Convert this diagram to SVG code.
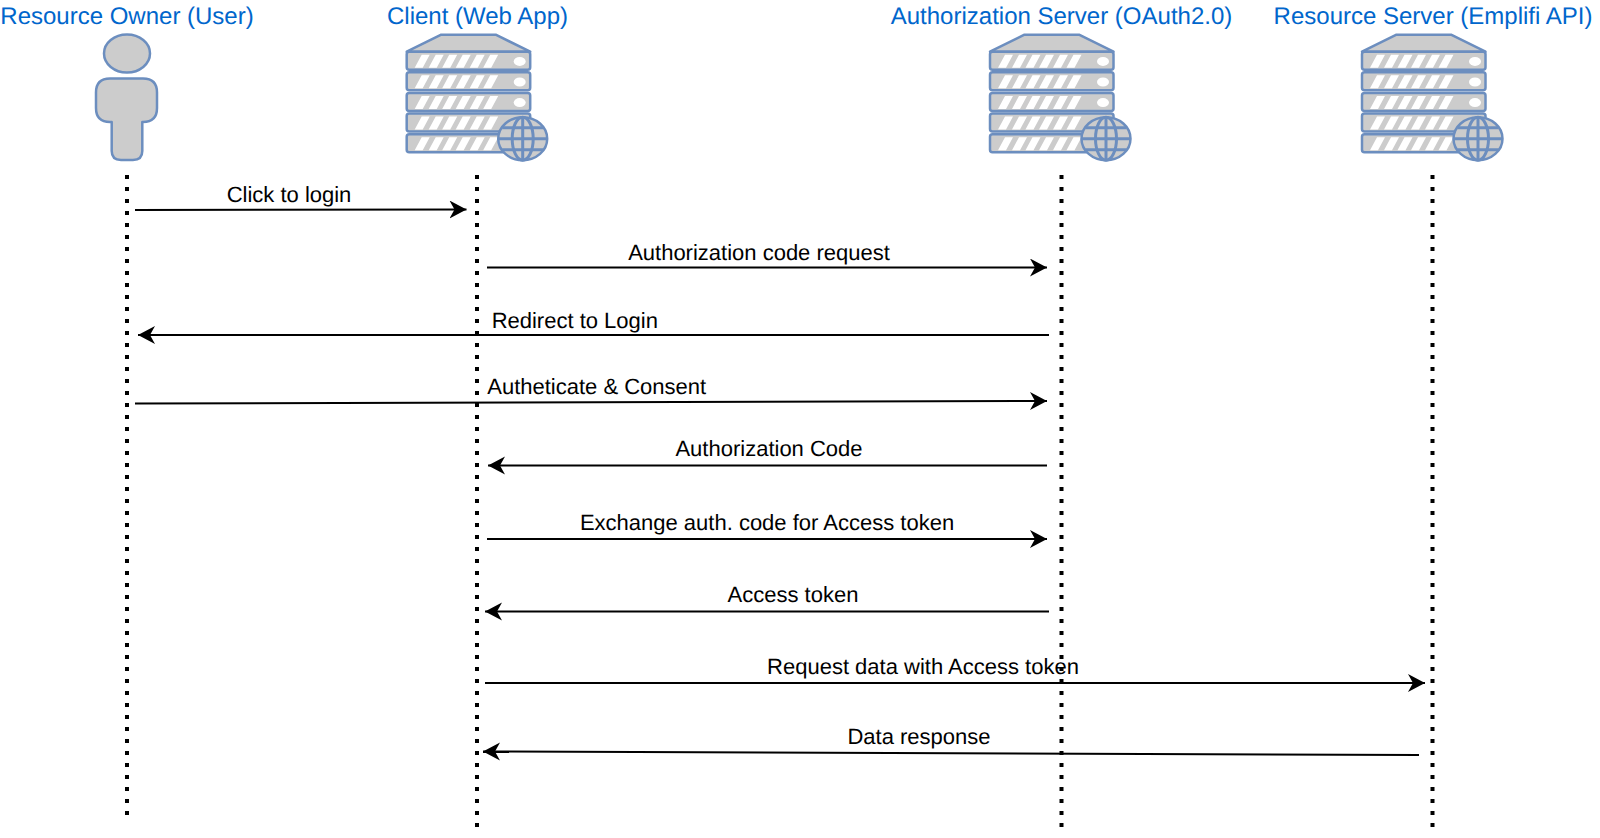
<svg xmlns="http://www.w3.org/2000/svg" width="1600" height="838" viewBox="0 0 1600 838">
<style>
text{font-family:"Liberation Sans",Arial,sans-serif;font-size:22px;text-anchor:middle;text-rendering:geometricPrecision}
.h{fill:#0066cc;font-size:24px}
.l{fill:#000}
.life{stroke:#000;stroke-width:4;stroke-dasharray:4 8;fill:none}
.c{stroke:#000;stroke-width:2;fill:none;marker-end:url(#a)}
.s{fill:#ccc;stroke:#6c8ebf;stroke-width:2.500;stroke-linejoin:round}
.w{fill:#fff}
.g{fill:none;stroke:#6c8ebf;stroke-width:3}
</style>
<defs>
<marker id="a" markerUnits="userSpaceOnUse" markerWidth="20" markerHeight="20" refX="17" refY="9" orient="auto"><path d="M0 0L17 9L0 18L5 9Z" fill="#000"/></marker>
<g id="u"><rect class="s" x="0" y="0" width="123.500" height="18" rx="2.500"/>
<path class="w" d="M8 16l7-13h8l-7 13zM22 16l7-13h8l-7 13zM35.500 16l7-13h8l-7 13zM49 16l7-13h8l-7 13zM63 16l7-13h8l-7 13zM76.500 16l7-13h8l-7 13z"/></g>
<g id="srv">
<path class="s" d="M0 17L34.500 0H89L123.500 17Z"/>
<use href="#u" x="0" y="17"/><ellipse class="w" cx="113" cy="26.700" rx="6" ry="4.500"/>
<use href="#u" x="0" y="37.600"/><ellipse class="w" cx="113" cy="47.300" rx="6" ry="4.500"/>
<use href="#u" x="0" y="58.200"/><ellipse class="w" cx="113" cy="67.900" rx="6" ry="4.500"/>
<use href="#u" x="0" y="78.800"/>
<use href="#u" x="0" y="99.500"/>
<ellipse class="s" cx="116" cy="104" rx="24.500" ry="21.500"/>
<ellipse class="g" cx="116" cy="104" rx="10.500" ry="21.500"/>
<path class="g" d="M116 82.500V125.500M91.500 104H140.500M95.500 93H136.500M95.500 115H136.500"/>
</g>
</defs>
<g id="lifelines">
<path class="life" d="M127 175V816"/>
<path class="life" d="M477 175V828"/>
<path class="life" d="M1061.500 175V828"/>
<path class="life" d="M1432.500 175V828"/>
</g>
<g id="connectors">
<path class="c" d="M135 210L466.500 209.500"/>
<path class="c" d="M487 267.500H1047"/>
<path class="c" d="M1049 335H138"/>
<path class="c" d="M135 403.500L1047 401"/>
<path class="c" d="M1047 465.500H488"/>
<path class="c" d="M487 539H1047"/>
<path class="c" d="M1049 611.500H485"/>
<path class="c" d="M485 683H1425"/>
<path class="c" d="M1419 755L483 751.500"/>
</g>
<g id="owner">
<ellipse class="s" cx="127" cy="53.500" rx="23" ry="19"/>
<path class="s" d="M110 78.500H143Q157 78.500 157 92.500V108Q157 122 143 122H142.300V151Q142.300 160 133 160H121Q111.700 160 111.700 151V122H110Q96 122 96 108V92.500Q96 78.500 110 78.500Z"/>
<text class="h" x="127" y="23.500">Resource Owner (User)</text>
</g>
<g id="client"><use href="#srv" x="406.700" y="34.700"/><text class="h" x="477.500" y="23.500">Client (Web App)</text></g>
<g id="auth"><use href="#srv" x="990" y="34.700"/><text class="h" x="1061.500" y="23.500">Authorization Server (OAuth2.0)</text></g>
<g id="resource"><use href="#srv" x="1362" y="34.700"/><text class="h" x="1433" y="23.500">Resource Server (Emplifi API)</text></g>
<g id="labels">
<text class="l" x="289" y="202">Click to login</text>
<text class="l" x="759" y="259.500">Authorization code request</text>
<text class="l" x="574.800" y="328">Redirect to Login</text>
<text class="l" x="596.700" y="393.500">Autheticate &amp; Consent</text>
<text class="l" x="769" y="455.700">Authorization Code</text>
<text class="l" x="767" y="530">Exchange auth. code for Access token</text>
<text class="l" x="793" y="602">Access token</text>
<text class="l" x="923" y="673.500">Request data with Access token</text>
<text class="l" x="919" y="744">Data response</text>
</g>
</svg>
